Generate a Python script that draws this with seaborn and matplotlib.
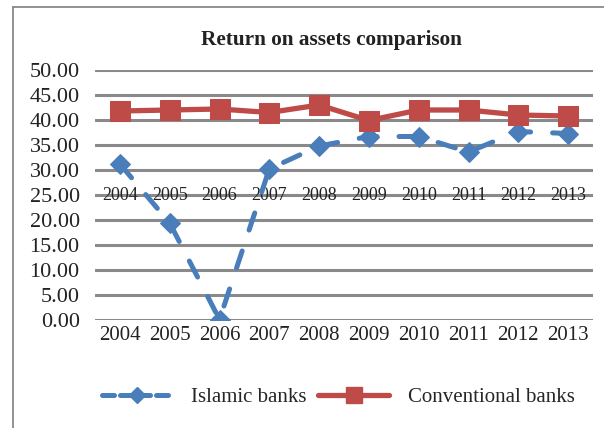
import matplotlib
matplotlib.use("Agg")
import matplotlib.pyplot as plt
import seaborn as sns
import pandas as pd
from matplotlib.lines import Line2D

years = ["2004", "2005", "2006", "2007", "2008", "2009", "2010", "2011", "2012", "2013"]
islamic = [31.2, 19.4, 0.1, 30.2, 34.8, 36.7, 36.7, 33.6, 37.7, 37.3]
conventional = [41.8, 42.0, 42.2, 41.5, 43.0, 39.9, 42.0, 42.0, 41.0, 40.8]
yticks = [0, 5, 10, 15, 20, 25, 30, 35, 40, 45, 50]

sns.set_theme(style="white")
plt.rcParams["font.family"] = ["Liberation Serif", "DejaVu Serif"]

W, H = 604, 428
fig = plt.figure(figsize=(W / 100, H / 100), dpi=100)
ax = fig.add_axes([95 / W, 1 - 320 / H, (593 - 95) / W, (320 - 70) / H])

pos = list(range(len(years)))
df = pd.DataFrame({"pos": pos, "year": years, "Islamic banks": islamic,
                   "Conventional banks": conventional})

blue = "#4a7ebb"
red = "#be4b48"

sns.lineplot(data=df, x="pos", y="Islamic banks", ax=ax, color=blue, lw=3.6,
             linestyle=(0, (3.6, 4.4)), dash_capstyle="round", marker="D", markersize=10.5,
             markeredgecolor=blue, markerfacecolor=blue, zorder=3)
sns.lineplot(data=df, x="pos", y="Conventional banks", ax=ax, color=red, lw=3.8,
             marker="s", markersize=14, markeredgecolor=red,
             markerfacecolor=red, zorder=4)

ax.set_xlim(-0.5, len(years) - 0.5)
ax.set_ylim(0, 50)
ax.set_yticks(yticks)
ax.set_yticklabels([f"{v:.2f}" for v in yticks], fontsize=16, color="#222222")
ax.set_xticks(pos)
ax.set_xticklabels(years, fontsize=15, color="#222222")
ax.tick_params(axis="both", length=0, pad=4)
ax.tick_params(axis="y", pad=11)
ax.set_xlabel("")
ax.set_ylabel("")
for s in ax.spines.values():
    s.set_visible(False)
for v in yticks:
    ax.axhline(v, color="#8a8a8a", lw=2.2, zorder=1)

# category labels drawn at the axis crossing (25)
for p, y in zip(pos, years):
    ax.text(p, 25, y, ha="center", va="center", fontsize=13, color="#222222", zorder=2)

fig.text(331 / W, 1 - 40 / H, "Return on assets comparison", ha="center",
         va="center", fontsize=15.3, fontweight="bold", color="#222222")

handles = [
    Line2D([], [], color=blue, lw=3.6, linestyle=(0, (2.4, 1.2)), dash_capstyle="round",
           marker="D", markersize=8, markerfacecolor=blue, markeredgecolor=blue),
    Line2D([], [], color=red, lw=3.8, marker="s", markersize=11,
           markerfacecolor=red, markeredgecolor=red),
]
fig.legend(handles, ["Islamic banks", "Conventional banks"], loc="center",
           bbox_to_anchor=(0.56, 1 - 397 / H), ncol=2, frameon=False,
           fontsize=15, handlelength=3.4, columnspacing=0.57, handletextpad=0.9)

# outer frame (only left and top visible)
fig.add_artist(Line2D([12.5 / W, 12.5 / W], [0, 1 - 7 / H], transform=fig.transFigure,
                      color="#7f7f7f", lw=1.2))
fig.add_artist(Line2D([12.5 / W, 1], [1 - 7 / H, 1 - 7 / H], transform=fig.transFigure,
                      color="#7f7f7f", lw=1.2))

fig.savefig("out.png", dpi=100, facecolor="white")
